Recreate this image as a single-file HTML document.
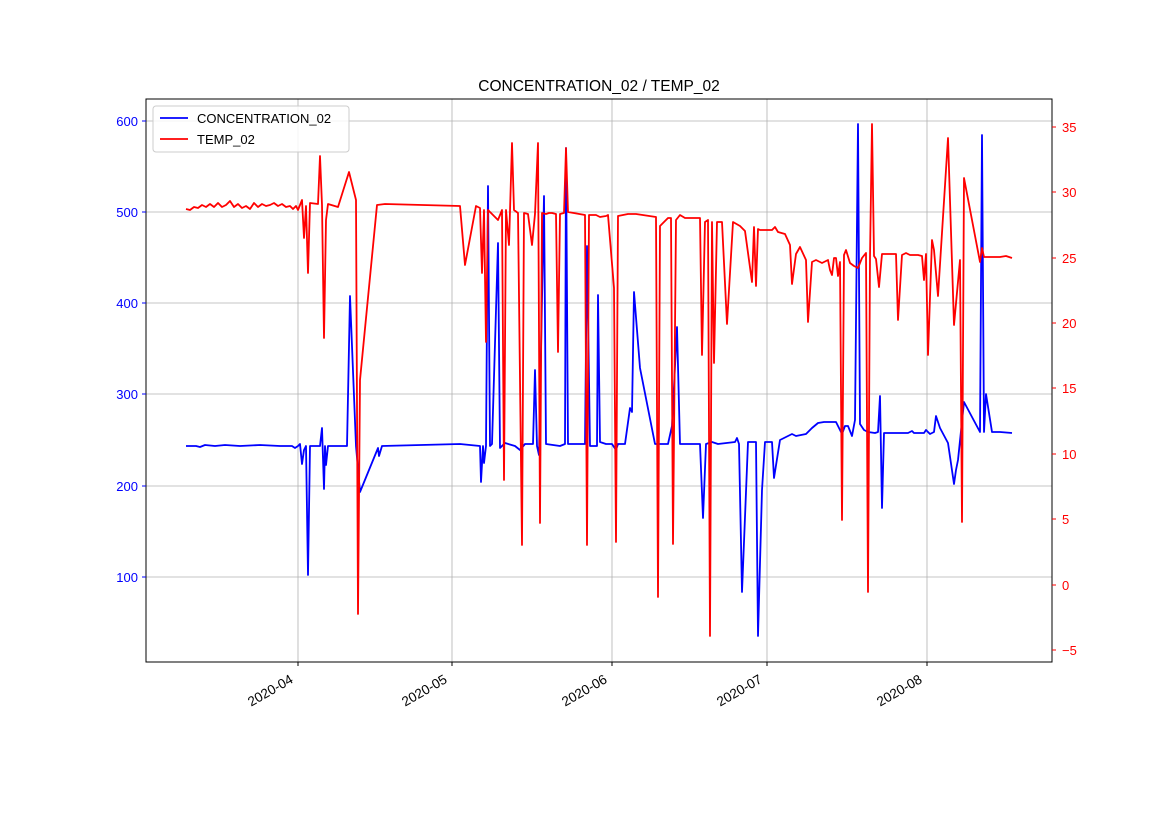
<!DOCTYPE html>
<html><head><meta charset="utf-8"><style>
html,body{margin:0;padding:0;background:#fff;}
svg{display:block;font-family:"Liberation Sans","DejaVu Sans",sans-serif;}
</style></head><body>
<svg width="1169" height="827" viewBox="0 0 1169 827" xmlns="http://www.w3.org/2000/svg">
<rect width="1169" height="827" fill="#fff"/>
<g stroke="#b0b0b0" stroke-width="0.8">
<line x1="298" y1="99" x2="298" y2="662"/><line x1="452" y1="99" x2="452" y2="662"/>
<line x1="612" y1="99" x2="612" y2="662"/><line x1="767" y1="99" x2="767" y2="662"/>
<line x1="927" y1="99" x2="927" y2="662"/>
<line x1="146" y1="121" x2="1052" y2="121"/><line x1="146" y1="212" x2="1052" y2="212"/>
<line x1="146" y1="303" x2="1052" y2="303"/><line x1="146" y1="394" x2="1052" y2="394"/>
<line x1="146" y1="486" x2="1052" y2="486"/><line x1="146" y1="577" x2="1052" y2="577"/>
</g>
<polyline fill="none" stroke="#0000ff" stroke-width="1.8" stroke-linejoin="round" points="186,446 196,446 200,447 205,445 215,446 225,445 240,446 260,445 280,446 292,446 295,448 298,446 300,444 302,464 304,450 306,446 308,575 310,446 320,446 322,428 324,489 325,446 326,465 328,446 347,446 350,296 356,446 360,492 378,448 379,456 382,446 460,444 470,445 480,446 481,482 483,446 484,463 486,446 488,186 490,446 492,444 498,243 500,448 505,443 515,446 520,450 525,444 533,444 535,370 537,446 539,455 544,196 546,444 560,446 565,444 566,148 568,444 585,444 587,246 590,446 597,446 598,295 600,442 606,444 612,444 616,450 618,444 625,444 630,408 632,412 634,292 640,368 655,444 668,444 672,426 677,327 680,444 700,444 703,518 706,444 712,442 718,444 735,442 737,438 739,444 742,592 748,442 756,442 758,636 762,490 765,442 772,442 774,478 780,440 792,434 796,436 806,434 812,428 818,423 824,422 830,422 836,422 838,426 842,434 845,426 848,426 852,436 855,420 858,124 860,424 864,430 868,432 875,433 878,432 880,396 882,508 884,433 900,433 908,433 912,431 914,433 924,433 926,430 930,434 934,432 936,416 940,428 948,443 954,484 956,470 958,460 964,402 980,432 982,135 984,432 986,394 992,432 1000,432 1012,433"/>
<polyline fill="none" stroke="#ff0000" stroke-width="1.8" stroke-linejoin="round" points="186,209 190,210 194,207 198,208 202,205 206,207 210,204 214,207 218,203 222,207 226,205 230,201 234,207 238,204 242,208 246,206 250,209 254,203 258,207 262,204 266,206 270,205 274,203 278,206 282,204 286,207 290,206 293,209 296,206 298,210 302,200 304,238 306,206 308,273 310,203 318,204 320,156 322,205 324,338 326,220 328,204 338,207 349,172 356,200 358,614 360,380 377,205 385,204 460,206 465,265 476,206 480,208 482,273 484,210 486,342 488,210 490,212 498,220 502,210 504,480 506,210 509,245 512,143 514,210 518,213 522,545 524,213 528,214 532,245 535,214 538,143 540,523 542,213 546,214 549,213 552,213 556,214 558,352 560,214 564,213 566,148 568,212 585,215 587,545 589,215 596,215 600,217 606,216 608,215 614,288 616,542 618,216 628,214 632,214 636,214 656,217 658,597 660,226 668,218 671,218 673,544 676,220 680,215 685,218 700,218 702,355 705,222 708,220 710,636 712,222 714,363 717,222 722,222 727,324 733,222 740,226 745,231 752,282 754,227 756,286 758,229 760,230 764,230 770,230 772,230 775,227 778,232 785,234 790,245 792,284 796,254 800,247 806,260 808,322 812,262 816,260 822,263 828,260 830,270 832,275 834,258 836,258 838,276 840,262 842,520 844,255 846,250 850,263 854,266 858,268 862,258 866,253 868,592 870,257 872,124 874,256 876,259 879,287 882,254 886,254 896,254 898,320 902,255 906,253 910,255 918,255 922,256 924,280 926,254 928,355 932,240 934,250 938,296 948,138 954,325 960,260 962,522 964,178 980,262 982,248 984,257 990,257 1000,257 1006,256 1012,258"/>
<rect x="146" y="99" width="906" height="563" fill="none" stroke="#000" stroke-width="1"/>
<g stroke="#000"><line x1="298" y1="662" x2="298" y2="666"/><line x1="452" y1="662" x2="452" y2="666"/><line x1="612" y1="662" x2="612" y2="666"/><line x1="767" y1="662" x2="767" y2="666"/><line x1="927" y1="662" x2="927" y2="666"/></g>
<g stroke="#0000ff"><line x1="142" y1="121" x2="146" y2="121"/><line x1="142" y1="212" x2="146" y2="212"/><line x1="142" y1="303" x2="146" y2="303"/><line x1="142" y1="394" x2="146" y2="394"/><line x1="142" y1="486" x2="146" y2="486"/><line x1="142" y1="577" x2="146" y2="577"/></g>
<g fill="#0000ff" font-size="13" text-anchor="end"><text x="138" y="126">600</text><text x="138" y="217">500</text><text x="138" y="308">400</text><text x="138" y="399">300</text><text x="138" y="491">200</text><text x="138" y="582">100</text></g>
<g stroke="#ff0000"><line x1="1052" y1="127" x2="1056" y2="127"/><line x1="1052" y1="192" x2="1056" y2="192"/><line x1="1052" y1="258" x2="1056" y2="258"/><line x1="1052" y1="323" x2="1056" y2="323"/><line x1="1052" y1="388" x2="1056" y2="388"/><line x1="1052" y1="454" x2="1056" y2="454"/><line x1="1052" y1="519" x2="1056" y2="519"/><line x1="1052" y1="585" x2="1056" y2="585"/><line x1="1052" y1="650" x2="1056" y2="650"/></g>
<g fill="#ff0000" font-size="13"><text x="1062" y="132">35</text><text x="1062" y="197">30</text><text x="1062" y="263">25</text><text x="1062" y="328">20</text><text x="1062" y="393">15</text><text x="1062" y="459">10</text><text x="1062" y="524">5</text><text x="1062" y="590">0</text><text x="1062" y="655">−5</text></g>
<g font-size="13.5" fill="#000" text-anchor="end">
<text transform="translate(294,682) rotate(-30)">2020-04</text>
<text transform="translate(448,682) rotate(-30)">2020-05</text>
<text transform="translate(608,682) rotate(-30)">2020-06</text>
<text transform="translate(763,682) rotate(-30)">2020-07</text>
<text transform="translate(923,682) rotate(-30)">2020-08</text>
</g>
<text x="599" y="91" font-size="15.5" text-anchor="middle" fill="#000">CONCENTRATION_02 / TEMP_02</text>
<rect x="153" y="106" width="196" height="46" rx="3" fill="#fff" fill-opacity="0.85" stroke="#ccc"/>
<line x1="160" y1="118" x2="188" y2="118" stroke="#0000ff" stroke-width="1.8"/>
<text x="197" y="123" font-size="13">CONCENTRATION_02</text>
<line x1="160" y1="139" x2="188" y2="139" stroke="#ff0000" stroke-width="1.8"/>
<text x="197" y="144" font-size="13">TEMP_02</text>
</svg>
</body></html>
